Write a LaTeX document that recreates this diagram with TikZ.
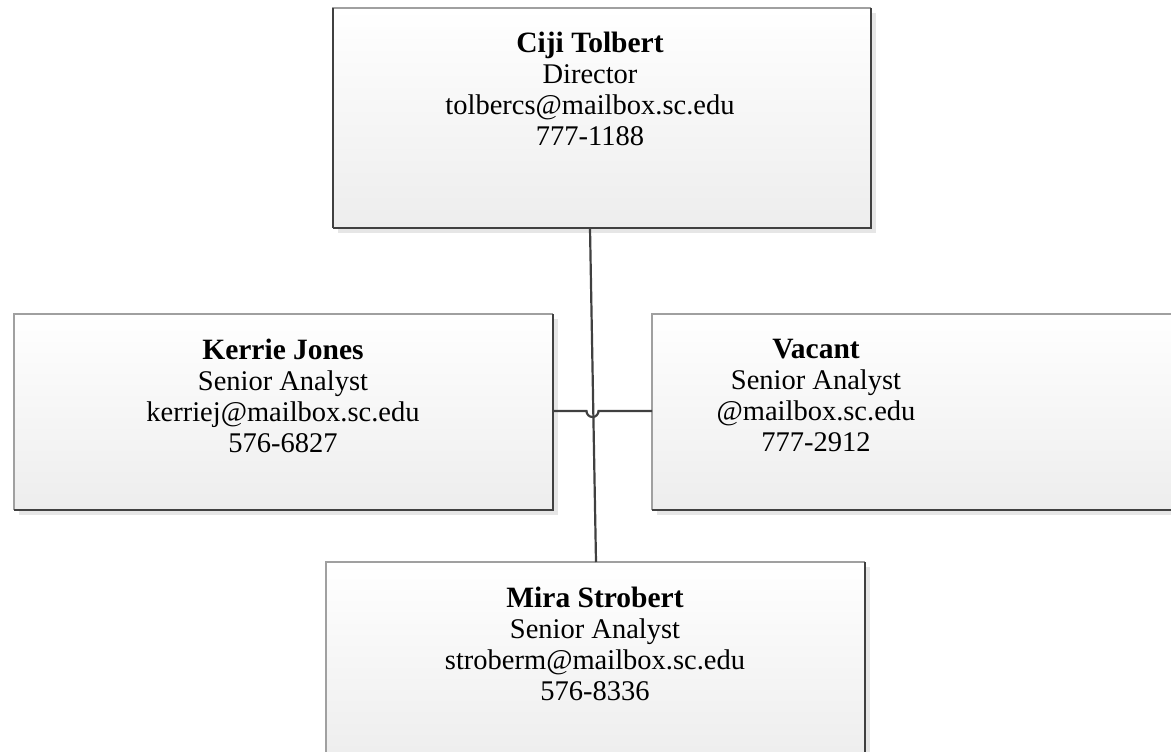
\documentclass[tikz,border=0pt]{standalone}
\usepackage{fontspec}
\setmainfont{Liberation Serif}
\definecolor{edgedark}{HTML}{404040}
\definecolor{edgelight}{HTML}{A0A0A0}
\definecolor{fillbot}{HTML}{EDEDED}
\definecolor{shadowc}{HTML}{E6E6E6}
\newcommand{\pname}[1]{{\fontsize{29.5}{31}\selectfont\bfseries #1}}
\tikzset{
  lbl/.style={anchor=north, align=center, inner sep=0pt, font=\fontsize{28.5}{31}\selectfont},
  conn/.style={draw=edgedark, line width=2.2pt}
}
% box: #1 name, #2 left, #3 top, #4 right, #5 bottom
\newcommand{\orgrect}[5]{%
  \fill[shadowc] (#2+5,#3+5) rectangle (#4+5,#5+5);
  \shade[top color=white, bottom color=fillbot] (#2,#3) rectangle (#4,#5);
  \draw[edgelight, line width=1.6pt] (#2,#5) -- (#2,#3) -- (#4,#3);
  \draw[edgedark, line width=1.6pt] (#4,#3) -- (#4,#5) -- (#2,#5);
  \node[inner sep=0pt, minimum size=0pt] (#1) at ({(#2+#4)/2},{(#3+#5)/2}) {};
}
\begin{document}
\begin{tikzpicture}[x=1pt,y=-1pt]
\useasboundingbox (0,0) rectangle (1171,752);
\orgrect{top}{333}{8}{871}{228}
\orgrect{left}{14}{314}{553}{510}
\orgrect{right}{652}{314}{1191}{510}
\orgrect{bot}{326}{562}{865}{762}
\draw[edgedark, line width=1.6pt] (333,8) -- (333,228);

\node[lbl] (toplbl) at (590,32) {\pname{Ciji Tolbert}\\Director\\tolbercs@mailbox.sc.edu\\777-1188};
\node[lbl] (leftlbl) at (283,339) {\pname{Kerrie Jones}\\Senior Analyst\\kerriej@mailbox.sc.edu\\576-6827};
\node[lbl] (rightlbl) at (816,339) {\pname{Vacant}\\Senior Analyst\\@mailbox.sc.edu\\777-2912};
\node[lbl] (botlbl) at (595,587) {\pname{Mira Strobert}\\Senior Analyst\\stroberm@mailbox.sc.edu\\576-8336};

\coordinate (topout) at (590,228);
\coordinate (botin) at (596,562);
\coordinate (leftout) at (553,411);
\coordinate (rightin) at (652,411);
\coordinate (hopa) at (586.5,411);
\draw[conn] (topout) -- (botin);
\draw[conn] (leftout) -- (hopa) arc[start angle=180, end angle=0, radius=6] -- (rightin);
\end{tikzpicture}
\end{document}
